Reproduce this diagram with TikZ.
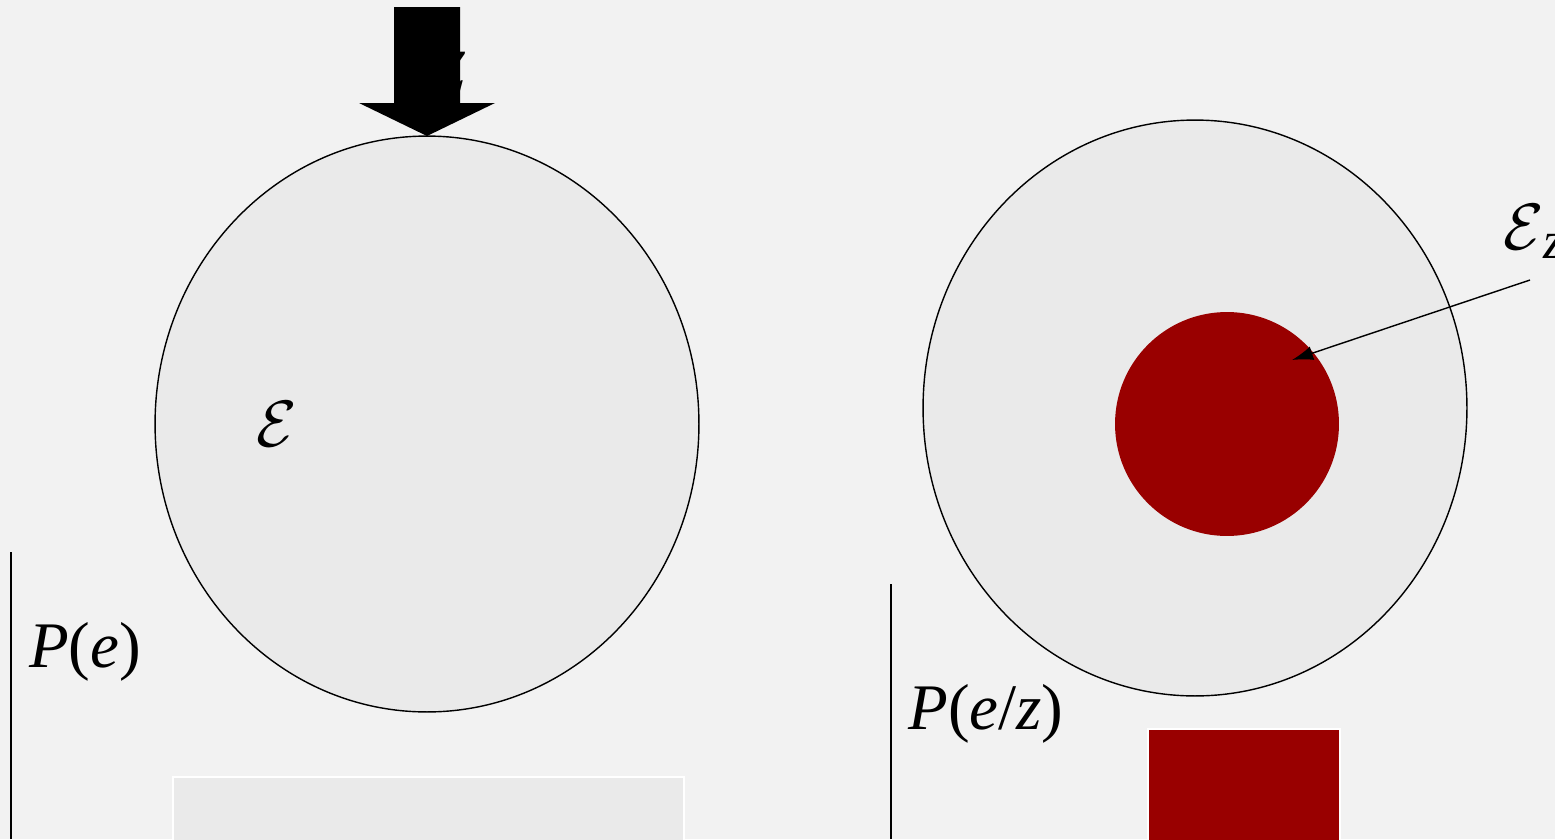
\documentclass[tikz,border=0pt]{standalone}
\usepackage{fontspec}
\setmainfont{Liberation Serif}
\usetikzlibrary{positioning, arrows.meta, shapes.geometric, calc}
\definecolor{bgGray}{HTML}{F2F2F2}
\definecolor{setGray}{HTML}{EAEAEA}
\definecolor{darkRed}{HTML}{990000}
\newcommand{\bigE}{\scalebox{1.5}{$\mathcal{E}$}}

\begin{document}
\begin{tikzpicture}[x=0.02cm, y=-0.02cm,
    setshape/.style={ellipse, draw=black, line width=0.8pt, fill=setGray, inner sep=0pt},
    barbox/.style={draw=white, line width=1.2pt, inner sep=0pt, anchor=north west},
    biglabel/.style={font=\fontsize{37}{40}\selectfont, inner sep=0pt}]
    % page and background
    \fill[bgGray] (0,0) rectangle (1555,839);
    \useasboundingbox (0,0) rectangle (1555,839);

    % the two sets
    \node[setshape, minimum width=10.88cm, minimum height=11.52cm] (setE) at (427,424) {};
    \node[setshape, minimum width=10.88cm, minimum height=11.52cm] (setEz) at (1195,408) {};
    \node[circle, fill=darkRed, minimum size=4.48cm, inner sep=0pt] (subset) at (1227,424) {};

    % labels
    \node[biglabel] (labE) at (277,424) {\bigE};
    \node[biglabel, anchor=west] (labEz) at (1503,232)
      {\bigE\raisebox{-0.3ex}{\fontsize{30}{32}\selectfont\itshape z}};
    \node[biglabel, font=\fontsize{50}{54}\selectfont\itshape] (labz) at (450,72) {z};

    % conditioning arrow on top
    \fill[black] (394,7) -- (460,7) -- (460,103) -- (495,103) -- (427,136)
        -- (359,103) -- (394,103) -- cycle;
    \coordinate (ezTail) at (1530,280);
    \draw[line width=0.8pt, -{Latex[length=12pt, width=8pt]}] (ezTail) -- (1292,360);

    % probability bars
    \coordinate (axisA) at (11,552);
    \coordinate (axisB) at (891,584);
    \draw[line width=1pt] (axisA) -- (11,839);
    \draw[line width=1pt] (axisB) -- (891,839);
    \node[biglabel] (labPe) at (85,652) {\textit{P}(\textit{e})};
    \node[biglabel] (labPez) at (986,714) {\textit{P}(\textit{e}/\textit{z})};
    \node[barbox, fill=setGray, minimum width=10.22cm, minimum height=2cm] (barE) at (172,776) {};
    \node[barbox, fill=darkRed, minimum width=3.84cm, minimum height=3cm] (barEz) at (1147,728) {};
\end{tikzpicture}
\end{document}
